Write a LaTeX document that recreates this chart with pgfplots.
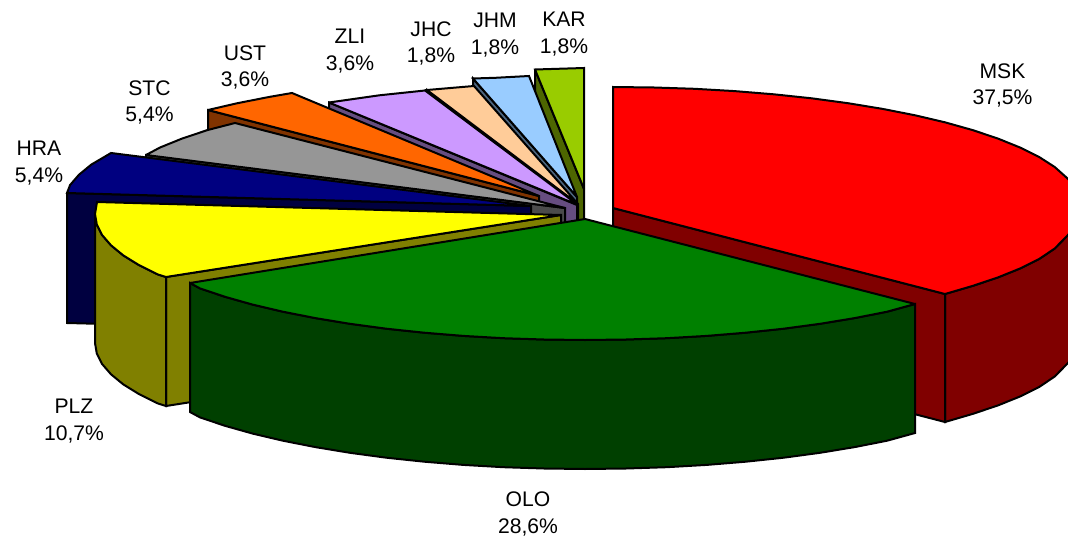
\documentclass[border=0pt]{standalone}
\usepackage{pgfplots}
\pgfplotsset{compat=1.18}
\usepackage{fontspec}
\setmainfont{Liberation Sans}
\definecolor{cRed}{HTML}{FF0000}\definecolor{wRed}{HTML}{800000}
\definecolor{cGrn}{HTML}{008000}\definecolor{wGrn}{HTML}{004000}
\definecolor{cYel}{HTML}{FFFF00}\definecolor{wYel}{HTML}{808000}
\definecolor{cNav}{HTML}{000080}\definecolor{wNav}{HTML}{000040}
\definecolor{cGry}{HTML}{969696}\definecolor{wGry}{HTML}{4B4B4B}
\definecolor{cOrg}{HTML}{FF6600}\definecolor{wOrg}{HTML}{803300}
\definecolor{cVio}{HTML}{CC99FF}\definecolor{wVio}{HTML}{664D80}
\definecolor{cPea}{HTML}{FFCC99}\definecolor{wPea}{HTML}{80664D}
\definecolor{cBlu}{HTML}{99CCFF}\definecolor{wBlu}{HTML}{4D6680}
\definecolor{cLim}{HTML}{99CC00}\definecolor{wLim}{HTML}{4D6600}
\begin{document}
\begin{tikzpicture}
\begin{axis}[
  name=pie,
  scale only axis, width=1068bp, height=541bp,
  xmin=0, xmax=1068, ymin=0, ymax=541, y dir=reverse,
  hide axis, no marks,
  every axis plot/.append style={draw=black, line width=2bp, line join=miter, miter limit=3},
]
% KAR
\addplot[fill=wLim] coordinates {(535,69.5)(584,189)(584,317)(535,197.5)} -- cycle;
\addplot[fill=cLim] coordinates {(535,69.5)(584,68)(584,189)} -- cycle;
% JHM
\addplot[fill=wBlu] coordinates {(473,78.5)(577,197)(577,325)(473,206.5)} -- cycle;
\addplot[fill=cBlu] coordinates {(473,78.5)(495.4,77.8)(529,76)(577,197)} -- cycle;
% JHC
\addplot[fill=wPea] coordinates {(427,90)(578,204)(578,332)(427,218)} -- cycle;
\addplot[fill=cPea] coordinates {(427,90)(474,86)(578,204)} -- cycle;
% ZLI
\addplot[fill=wVio] coordinates {(329,102.5)(577,205)(577,333)(329,230)} -- cycle;
\addplot[fill=cVio] coordinates {(329,102.5)(379.4,95.3)(425,90.5)(578,205)} -- cycle;
% UST
\addplot[fill=wOrg] coordinates {(208,110)(539,196)(539,324)(208,238)} -- cycle;
\addplot[fill=cOrg] coordinates {(208,110)(236.9,103.3)(269.4,96.9)(292,93)(539,196)} -- cycle;
% STC
\addplot[fill=wGry] coordinates {(146,155)(565,208)(565,336)(146,283)} -- cycle;
\addplot[fill=cGry] coordinates {(146,155)(160,147.5)(182,138.6)(207,130.2)(235,123)(565,208)} -- cycle;
% HRA
\addplot[fill=wNav] coordinates {(67,193)(531,206)(531,335)(67,323)} -- cycle;
\addplot[fill=cNav] coordinates {(67,193)(70.1,185)(79,174.7)(91.3,164.6)(111,153)(531,206)} -- cycle;
% MSK
\addplot[fill=wRed] coordinates {(1083,200)(1075,227)(1067,236)(1054.7,248.5)(1039,259.1)(1020,268.5)(998,277.4)(973,285.8)(945,294)
  (945,422)(973,413.8)(998,405.4)(1020,396.5)(1039,387.1)(1054.7,376.5)(1067,364)(1075,355)(1083,328)} -- cycle;
\addplot[fill=wRed] coordinates {(613,208)(945,294)(945,422)(613,336)} -- cycle;
\addplot[fill=cRed] coordinates {(613,87)(654,87.5)(694.6,88.8)(734.6,91.1)(773.7,94.3)(811.6,98.3)(848,103.2)(882.6,108.9)(915.1,115.3)(945.3,122.4)(973,130.2)(998,138.6)(1020,147.5)(1039,156.9)(1054.7,167)(1067,178)(1075.9,187)(1081.2,197.5)(1083,208)(1075,227)(1067,236)(1054.7,248.5)(1039,259.1)(1020,268.5)(998,277.4)(973,285.8)(945,294)(613,208)} -- cycle;
% PLZ
\addplot[fill=wYel] coordinates {(166,277)(561,215)(561,344)(166,406)} -- cycle;
\addplot[fill=wYel] coordinates {(166,277)(158,274.5)(139,265.1)(123.3,255.4)(111,245.3)(102.1,235)(96.8,224.5)(95,214)
  (95,343)(96.8,353.5)(102.1,364)(111,374.3)(123.3,384.4)(139,394.1)(158,403.5)(166,406)} -- cycle;
\addplot[fill=cYel] coordinates {(97,202)(95,214)(96.8,224.5)(102.1,235)(111,245.3)(123.3,255.4)(139,265.1)(158,274.5)(166,277)(561,215)} -- cycle;
% OLO
\addplot[fill=wGrn] coordinates {(915,304)(887.1,311.7)(854.6,318.1)(820,323.8)(783.6,328.7)(745.7,332.7)(706.6,335.9)(666.6,338.2)(626,339.5)(585,340)(544,339.5)(503.4,338.2)(463.4,335.9)(424.3,332.7)(386.4,328.7)(350,323.8)(315.4,318.1)(282.9,311.7)(252.7,304.6)(225,296.8)(200,288.4)(190,283)
  (190,412)(200,417.4)(225,425.8)(252.7,433.6)(282.9,440.7)(315.4,447.1)(350,452.8)(386.4,457.7)(424.3,461.7)(463.4,464.9)(503.4,467.2)(544,468.5)(585,469)(626,468.5)(666.6,467.2)(706.6,464.9)(745.7,461.7)(783.6,457.7)(820,452.8)(854.6,447.1)(887.1,440.7)(915,433)} -- cycle;
\addplot[fill=cGrn] coordinates {(585,219)(915,304)(887.1,311.7)(854.6,318.1)(820,323.8)(783.6,328.7)(745.7,332.7)(706.6,335.9)(666.6,338.2)(626,339.5)(585,340)(544,339.5)(503.4,338.2)(463.4,335.9)(424.3,332.7)(386.4,328.7)(350,323.8)(315.4,318.1)(282.9,311.7)(252.7,304.6)(225,296.8)(200,288.4)(190,283)} -- cycle;
% labels
\tikzset{lab/.style={align=center, inner sep=0pt, text=black, font=\fontsize{21.2}{27}\selectfont}}
\node[lab] at (axis cs:1002.5,85.5) {MSK\\37,5\%};
\node[lab] at (axis cs:528,514) {OLO\\28,6\%};
\node[lab] at (axis cs:74,421) {PLZ\\10,7\%};
\node[lab] at (axis cs:39,163.5) {HRA\\5,4\%};
\node[lab] at (axis cs:149.5,102.5) {STC\\5,4\%};
\node[lab] at (axis cs:245,67.5) {UST\\3,6\%};
\node[lab] at (axis cs:350,51.5) {ZLI\\3,6\%};
\node[lab] at (axis cs:431,43.5) {JHC\\1,8\%};
\node[lab] at (axis cs:495,35.5) {JHM\\1,8\%};
\node[lab] at (axis cs:564,34.5) {KAR\\1,8\%};
\end{axis}
\path[use as bounding box] (pie.south west) rectangle (pie.north east);
\end{tikzpicture}
\end{document}
